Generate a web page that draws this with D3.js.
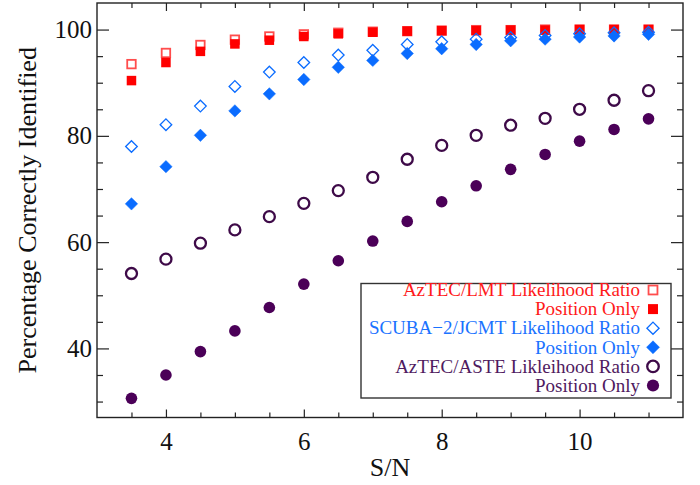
<!DOCTYPE html>
<html>
<head>
<meta charset="utf-8">
<script src="https://cdn.jsdelivr.net/npm/d3@7/dist/d3.min.js"></script>
<style>
  html, body { margin: 0; padding: 0; background: #fff; }
  svg { display: block; }
  text { font-family: "Liberation Serif", "Times New Roman", serif; }
</style>
</head>
<body>
<svg id="chart" width="700" height="485"></svg>
<script>
// ---- data ----
const snr = [3.5, 4, 4.5, 5, 5.5, 6, 6.5, 7, 7.5, 8, 8.5, 9, 9.5, 10, 10.5, 11];
const lmtLikelihood = [93.5, 95.6, 97.1, 98.1, 98.7, 99.1, 99.4, 99.6, 99.7, 99.8, 99.9, 99.9, 100, 100, 100, 100];
const lmtPosition   = [90.4, 93.8, 95.9, 97.3, 98.0, 98.7, 99.2, 99.5, 99.7, 99.8, 99.8, 99.9, 99.9, 100, 100, 100];
const jcmtLikelihood = [78.0, 82.1, 85.6, 89.3, 92.0, 93.8, 95.2, 96.1, 97.2, 97.7, 98.2, 98.5, 98.9, 99.2, 99.4, 99.5];
const jcmtPosition   = [67.2, 74.2, 80.1, 84.7, 87.9, 90.6, 92.9, 94.2, 95.5, 96.4, 97.2, 97.9, 98.2, 98.6, 98.8, 99.1];
const asteLikelihood = [54.1, 56.8, 59.8, 62.3, 64.8, 67.3, 69.7, 72.2, 75.6, 78.2, 80.1, 82.0, 83.3, 85.0, 86.7, 88.5];
const astePosition   = [30.6, 35.0, 39.4, 43.3, 47.7, 52.1, 56.5, 60.2, 63.9, 67.6, 70.6, 73.7, 76.5, 79.0, 81.2, 83.2];
const xMajorTicks = [4, 6, 8, 10];
const xMinorTicks = [3.5, 4.5, 5, 5.5, 6.5, 7, 7.5, 8.5, 9, 9.5, 10.5, 11];
const yMajorTicks = [40, 60, 80, 100];
const yMinorTicks = [30, 35, 45, 50, 55, 65, 70, 75, 85, 90, 95];
const legendLabels = ["AzTEC/LMT Likelihood Ratio", "Position Only", "SCUBA\u22122/JCMT Likelihood Ratio", "Position Only", "AzTEC/ASTE Likleihood Ratio", "Position Only"];

// ---- styles ----
const RED = "#ff0000", BLUE = "#0a6cff", PURPLE = "#4b0058";
const series = [
  {values: lmtLikelihood, shape: "square", filled: false, color: RED, text: "#ff1a1a"},
  {values: lmtPosition, shape: "square", filled: true, color: RED, text: "#ff1a1a"},
  {values: jcmtLikelihood, shape: "diamond", filled: false, color: BLUE, text: "#1a72ff"},
  {values: jcmtPosition, shape: "diamond", filled: true, color: BLUE, text: "#1a72ff"},
  {values: asteLikelihood, shape: "circle", filled: false, color: PURPLE, text: "#4f1a60"},
  {values: astePosition, shape: "circle", filled: true, color: PURPLE, text: "#4f1a60"}
];

const svg = d3.select("#chart");
const L = 97, R = 683, T = 3, B = 417.5;
const x = d3.scaleLinear().domain([3, 11.5]).range([L, R]);
const y = d3.scaleLinear().domain([27, 105]).range([B, T]);

function drawMarker(g, shape, filled, color, cx, cy, scale) {
  scale = scale || 1;
  if (shape === "square") {
    const s = (filled ? 9.5 : 8.5) * scale;
    g.append("rect").attr("x", cx - s/2).attr("y", cy - s/2).attr("width", s).attr("height", s)
      .attr("fill", filled ? color : "none").attr("stroke", filled ? "none" : "#ff4d4d")
      .attr("stroke-width", 1.8);
  } else if (shape === "diamond") {
    const r = (filled ? 6.2 : 5.8) * scale;
    g.append("path").attr("d", `M${cx},${cy - r}L${cx + r},${cy}L${cx},${cy + r}L${cx - r},${cy}Z`)
      .attr("fill", filled ? color : "none").attr("stroke", color)
      .attr("stroke-width", filled ? 0.5 : 1.3);
  } else {
    const r = (filled ? 5.8 : 5.5) * scale;
    g.append("circle").attr("cx", cx).attr("cy", cy).attr("r", r)
      .attr("fill", filled ? color : "none").attr("stroke", filled ? "none" : "#3e0a48")
      .attr("stroke-width", 2.3);
  }
}

// markers
const marks = svg.append("g");
series.forEach(s => {
  s.values.forEach((v, i) => drawMarker(marks, s.shape, s.filled, s.color, x(snr[i]), y(v)));
});

// axes
const axisColor = "#222";
function styleAxis(g) {
  g.select(".domain").remove();
  g.selectAll("line").attr("stroke", axisColor).attr("stroke-width", 1.2);
  g.selectAll("text").attr("fill", "#111").style("font-size", "25px")
    .style("font-family", '"Liberation Serif", "Times New Roman", serif');
}
svg.append("g").attr("transform", `translate(0,${B})`)
  .call(d3.axisBottom(x).tickValues(xMajorTicks).tickSize(-8).tickPadding(15).tickFormat(d3.format("d")))
  .call(styleAxis);
svg.append("g").attr("transform", `translate(0,${B})`)
  .call(d3.axisBottom(x).tickValues(xMinorTicks).tickSize(-5).tickFormat(""))
  .call(styleAxis);
svg.append("g").attr("transform", `translate(0,${T})`)
  .call(d3.axisTop(x).tickValues(xMajorTicks).tickSize(-8).tickFormat(""))
  .call(styleAxis);
svg.append("g").attr("transform", `translate(0,${T})`)
  .call(d3.axisTop(x).tickValues(xMinorTicks).tickSize(-5).tickFormat(""))
  .call(styleAxis);
svg.append("g").attr("transform", `translate(${L},0)`)
  .call(d3.axisLeft(y).tickValues(yMajorTicks).tickSize(-12).tickPadding(5).tickFormat(d3.format("d")))
  .call(styleAxis);
svg.append("g").attr("transform", `translate(${L},0)`)
  .call(d3.axisLeft(y).tickValues(yMinorTicks).tickSize(-6).tickFormat(""))
  .call(styleAxis);
svg.append("g").attr("transform", `translate(${R},0)`)
  .call(d3.axisRight(y).tickValues(yMajorTicks).tickSize(-12).tickFormat(""))
  .call(styleAxis);
svg.append("g").attr("transform", `translate(${R},0)`)
  .call(d3.axisRight(y).tickValues(yMinorTicks).tickSize(-6).tickFormat(""))
  .call(styleAxis);

// frame
svg.append("rect").attr("x", L).attr("y", T).attr("width", R - L).attr("height", B - T)
  .attr("fill", "none").attr("stroke", axisColor).attr("stroke-width", 1.4);

// axis titles
svg.append("text").attr("x", (L + R) / 2).attr("y", 476).attr("text-anchor", "middle")
  .style("font-size", "26px").attr("fill", "#111").text("S/N");
svg.append("text").attr("transform", `translate(36,${(T + B) / 2}) rotate(-90)`)
  .attr("text-anchor", "middle").style("font-size", "26px").attr("fill", "#111")
  .text("Percentage Correctly Identified");

// legend
const lg = svg.append("g");
lg.append("rect").attr("x", 361).attr("y", 283.5).attr("width", 310).attr("height", 114.5)
  .attr("fill", "#fff").attr("stroke", "#333").attr("stroke-width", 1.4);
series.forEach((s, i) => {
  const cy = 290 + i * 19.1;
  lg.append("text").attr("x", 640).attr("y", cy).attr("dy", "0.33em").attr("text-anchor", "end")
    .style("font-size", "19px").attr("fill", s.text).text(legendLabels[i]);
  drawMarker(lg, s.shape, s.filled, s.color, 653, cy, 1.05);
});
</script>
</body>
</html>
